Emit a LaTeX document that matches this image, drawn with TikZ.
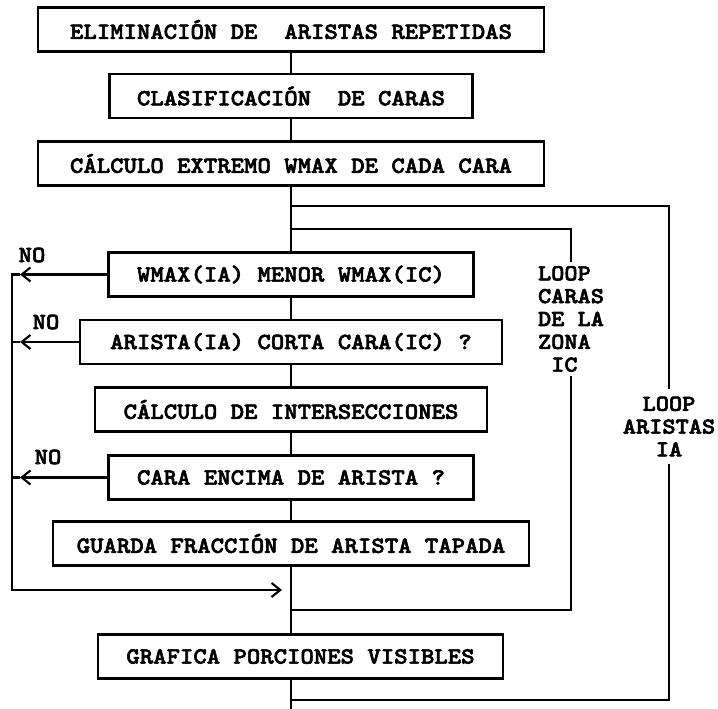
\documentclass[tikz,border=0pt]{standalone}
\usepackage{fontspec}
\usetikzlibrary{arrows.meta}
\newfontfamily\monobold{lmmonolt10-bold.otf}[FakeStretch=1.1, FakeBold=2.5]
\newcommand{\boxfont}{\monobold\fontsize{13.2}{16}\selectfont}
\newcommand{\notefont}{\monobold\fontsize{13}{13}\selectfont}
\tikzset{%
  block/.style    = {draw, line width=1.4pt, rectangle, minimum height=0.88cm,
    inner sep=0pt, font=\boxfont},
  loopnote/.style = {font=\notefont, inner xsep=0pt}, % loop labels
  nolabel/.style  = {font=\boxfont, inner sep=0pt}, % NO exits
  flow/.style     = {line width=1.2pt},
  noarrow/.style  = {flow, -{Straight Barb[length=5pt,width=8pt]}}
}

\begin{document}
\begin{tikzpicture}[x=0.02cm, y=-0.02cm]
\useasboundingbox (0,0) rectangle (718,709);
\draw
	node at(291,29.5)[block, name=Elim, minimum width=10.12cm]{ELIMINACIÓN DE\ \ ARISTAS REPETIDAS}
	node at(291,96)[block, name=Clasif, minimum width=7.26cm]{CLASIFICACIÓN\ \ DE CARAS}
	node at(291,163.5)[block, name=Wcalc, minimum width=10.12cm]{CÁLCULO EXTREMO WMAX DE CADA CARA}
	node at(291,274.5)[block, name=Wmax, minimum width=7.3cm]{WMAX(IA) MENOR WMAX(IC)}
	node at(291,342)[block, name=Corta, minimum width=8.44cm]{ARISTA(IA) CORTA CARA(IC) ?}
	node at(291,409.5)[block, name=Inter, minimum width=7.84cm]{CÁLCULO DE INTERSECCIONES}
	node at(291,477.5)[block, name=Encima, minimum width=7.3cm]{CARA ENCIMA DE ARISTA ?}
	node at(291,543.5)[block, name=Guarda, minimum width=9.52cm]{GUARDA FRACCIÓN DE ARISTA TAPADA}
	node at(300.5,656.5)[block, name=Grafica, minimum width=8.1cm]{GRAFICA PORCIONES VISIBLES};
% loop labels
\node[loopnote, align=left, inner ysep=0.08cm] (LoopIC) at (571,319)
	{LOOP\\CARAS\\DE LA\\ZONA\\\phantom{L}IC};
\node[loopnote, align=center, inner ysep=0.14cm] (LoopIA) at (669,426.5)
	{LOOP\\ARISTAS\\IA};
\node[nolabel] (NoA) at (32,255) {NO};
\node[nolabel] (NoB) at (46,322) {NO};
\node[nolabel] (NoC) at (48,457) {NO};
% spine
\coordinate (spineEnd) at (291,709);
\draw[flow] (Elim) -- (Clasif);
\draw[flow] (Clasif) -- (Wcalc);
\draw[flow] (Wcalc) -- (Wmax);
\draw[flow] (Wmax) -- (Corta);
\draw[flow] (Corta) -- (Inter);
\draw[flow] (Inter) -- (Encima);
\draw[flow] (Encima) -- (Guarda);
\draw[flow] (Guarda) -- (Guarda.south |- Grafica.north);
\draw[flow] (Guarda.south |- Grafica.south) -- (spineEnd);
% loops
\coordinate (outerTop) at (291,206);
\coordinate (outerTR) at (669,206);
\coordinate (outerBR) at (669,700);
\coordinate (outerBot) at (291,700);
\coordinate (innerTop) at (291,229);
\coordinate (innerTR) at (571,229);
\coordinate (innerBR) at (571,610);
\coordinate (innerBot) at (291,610);
\draw[flow] (outerTop) -- (outerTR) -- (LoopIA.north);
\draw[flow] (LoopIA.south) -- (outerBR) -- (outerBot);
\draw[flow] (innerTop) -- (innerTR) -- (LoopIC.north);
\draw[flow] (LoopIC.south) -- (innerBR) -- (innerBot);
% NO exits
\coordinate (tipA) at (20,274.5);
\coordinate (tipB) at (20,342);
\coordinate (tipC) at (20,477.5);
\coordinate (tipD) at (282,590);
\coordinate (busA) at (12,274.5);
\coordinate (busB) at (12,342);
\coordinate (busC) at (12,477.5);
\coordinate (busD) at (12,590);
\draw[noarrow] (Wmax) -- (tipA);
\draw[noarrow] (Corta) -- (tipB);
\draw[noarrow] (Encima) -- (tipC);
\draw[flow] (tipB) -- (busB);
\draw[flow] (tipC) -- (busC);
\draw[noarrow] (tipA) -- (busA) -- (busD) -- (tipD);
\end{tikzpicture}
\end{document}
